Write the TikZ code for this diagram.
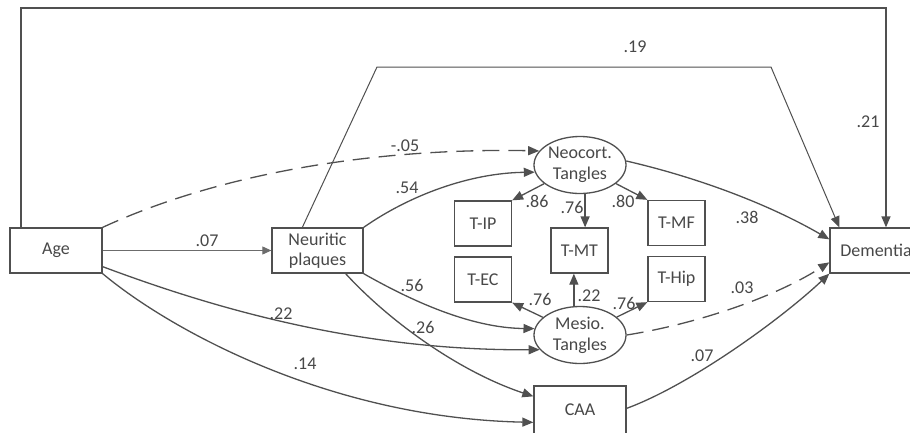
\documentclass[tikz,border=0pt]{standalone}
\usepackage{fontspec}
\setmainfont{Carlito}
\usetikzlibrary{arrows.meta,shapes.geometric}
\definecolor{ln}{HTML}{505050}
\definecolor{tx}{HTML}{484848}
\begin{document}
\begin{tikzpicture}[x=1pt,y=-1pt,
  box/.style={draw=ln,line width=1.3pt,rectangle,minimum width=92pt,minimum height=45pt,inner sep=0pt,align=center,text=tx,font=\fontsize{18}{20}\selectfont},
  tbox/.style={box,minimum width=57pt},
  lat/.style={draw=ln,line width=1.3pt,ellipse,minimum width=92pt,minimum height=57pt,inner sep=0pt,align=center,text=tx,font=\fontsize{18}{21}\selectfont},
  lab/.style={text=tx,font=\fontsize{18}{18}\selectfont,inner sep=0pt},
  arr/.style={draw=ln,line width=1.3pt,-{Triangle[length=11pt,width=9pt]}},
  dsh/.style={arr,dash pattern=on 17pt off 9pt}]
\clip (0,0) rectangle (910,432);
\fill[white] (0,0) rectangle (910,432);
% nodes
\node[box] (age) at (56,250.5) {Age};
\node[box,minimum width=91pt] (np) at (317.5,250.5) {Neuritic\\plaques};
\node[lat] (neo) at (580,165) {Neocort.\\Tangles};
\node[lat] (mes) at (580,335) {Mesio.\\Tangles};
\node[tbox] (tip) at (483,223.5) {T-IP};
\node[tbox] (tec) at (483,279.5) {T-EC};
\node[tbox] (tmt) at (579.5,250.5) {T-MT};
\node[tbox] (tmf) at (676.5,223) {T-MF};
\node[tbox] (thip) at (676.5,279) {T-Hip};
\node[box,minimum height=48pt] (caa) at (580,410) {CAA};
\node[box] (dem) at (876,250.5) {Dementia};
\coordinate (tl) at (21,8);
\coordinate (tr) at (886,8);
\coordinate (nl) at (377,67);
\coordinate (nr) at (771,67);
% connectors
\draw[arr] (tl |- age.north) -- (tl) -- (tr) -- (tr |- dem.north);
\draw[arr,line width=1pt] ([xshift=31pt]np.north west) -- (nl) -- (nr) -- ([xshift=10pt]dem.north west);
\draw[arr,draw=gray!85!black,line width=1pt,-{Triangle[length=9pt,width=8pt]}] (age.east |- np.west) -- (np.west);
\draw[dsh] (age.north east) .. controls (236,166) and (400,148) .. (neo.161);
\draw[arr] (np.north east) .. controls (410,195) and (470,173) .. (neo.189);
\draw[arr] (np.south east) .. controls (410,300) and (470,328) .. (mes.172);
\draw[arr] ([xshift=-18pt]np.south east) .. controls (390,322) and (460,372) .. ([yshift=-11pt]caa.north west);
\draw[arr] ([yshift=7pt]age.south east) .. controls (200,303) and (350,351) .. (mes.200);
\draw[arr] (age.south east) .. controls (170,330) and (330,418) .. ([yshift=-37pt]caa.north west);
\draw[arr] (neo) -- (tip.north east);
\draw[arr] (neo) -- (tmf.north west);
\draw[arr] (neo.-80) -- (neo.-80 |- tmt.north);
\draw[arr] (mes) -- (tec.south east);
\draw[arr] (mes) -- (thip.south west);
\draw[arr] (mes.102) -- (mes.102 |- tmt.south);
\draw[arr] (neo.5) .. controls (700,178) and (770,205) .. ([yshift=-12pt]dem.north west);
\draw[dsh] (mes.east) .. controls (690,325) and (770,300) .. ([yshift=-35pt]dem.north west);
\draw[arr] ([yshift=-23pt]caa.north east) .. controls (690,385) and (780,320) .. (dem.south west);
% labels
\node[lab] (l1) at (207,241) {.07};
\node[lab] (l2) at (405,146) {-.05};
\node[lab] (l3) at (407,188) {.54};
\node[lab] (l4) at (412,285) {.56};
\node[lab] (l5) at (423,327) {.26};
\node[lab] (l6) at (281,314) {.22};
\node[lab] (l7) at (305,364) {.14};
\node[lab] (l8) at (635,47) {.19};
\node[lab] (l9) at (868,122) {.21};
\node[lab] (l10) at (747,217) {.38};
\node[lab] (l11) at (742,288) {.03};
\node[lab] (l12) at (702,356) {.07};
\node[lab] (l13) at (537,201) {.86};
\node[lab] (l14) at (572,207) {.76};
\node[lab] (l15) at (623,201) {.80};
\node[lab] (l16) at (540,299) {.76};
\node[lab] (l17) at (589,296) {.22};
\node[lab] (l18) at (624,303) {.76};
\end{tikzpicture}
\end{document}
